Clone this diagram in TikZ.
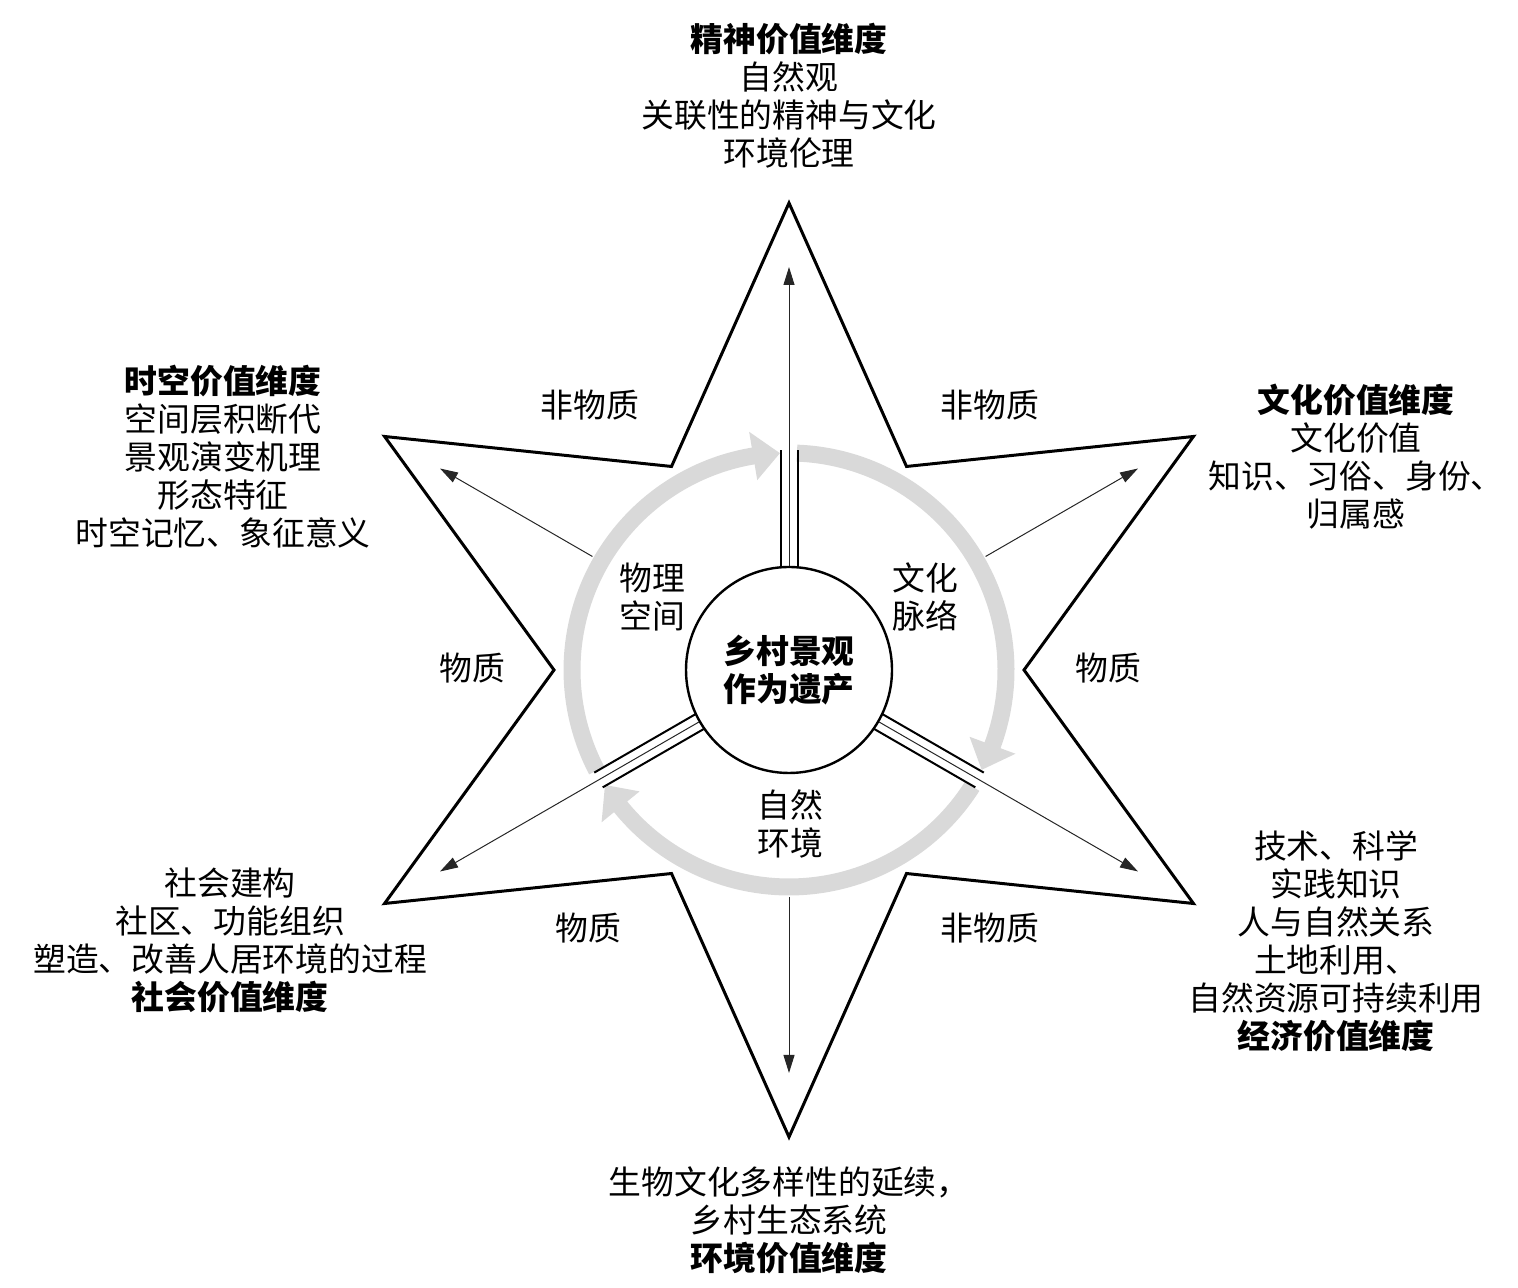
\documentclass[tikz,border=0pt]{standalone}
\usepackage{fontspec}
\setmainfont{Noto Sans CJK SC}
\usetikzlibrary{arrows.meta}
\begin{document}
\begin{tikzpicture}[x=0.5pt,y=0.5pt,
  txt/.style={font=\fontsize{16.4pt}{19pt}\selectfont, align=center, inner sep=0pt},
  starline/.style={line width=1.5pt, line join=miter},
  ringarc/.style={line width=8.5pt, draw=black!15},
  ringhead/.style={fill=black!15},
  thinarrow/.style={line width=0.5pt, draw=black!85, -{Triangle[length=9pt,width=5.5pt]}},
  spokeline/.style={line width=1pt},
  hubnode/.style={circle, draw, line width=1.2pt, fill=white, minimum size=103pt, inner sep=0pt, align=center, font=\fontsize{16.4pt}{19pt}\selectfont\bfseries}
]
\useasboundingbox (0,0) rectangle (1518,1288);
\coordinate (C) at (789,618);
\begin{scope}[shift={(C)}]
  % grey cycle arrows
  \draw[ringarc] (87.9:217) arc[start angle=87.9, end angle=-21.0, radius=217];
  \fill[ringhead] (-27.4:217) -- (-20.3:241.5) -- (-20.3:192.5) -- cycle;
  \draw[ringarc] (-32.4:217) arc[start angle=-32.4, end angle=-141.6, radius=217];
  \fill[ringhead] (-148:217) -- (-140.9:241.5) -- (-140.9:192.5) -- cycle;
  \draw[ringarc] (207.6:217) arc[start angle=207.6, end angle=98.8, radius=217];
  \fill[ringhead] (92.4:217) -- (99.5:241.5) -- (99.5:192.5) -- cycle;
  % spokes (double lines)
  \foreach \a in {90,-30,210}{
    \begin{scope}[rotate=\a]
      \draw[spokeline] (0,8.5) -- (220,8.5);
      \draw[spokeline] (0,-8.5) -- (220,-8.5);
    \end{scope}
  }
  % star
  \draw[starline] (90:467) -- (120:235) -- (150:467) -- (180:235) -- (210:467) -- (240:235)
    -- (270:467) -- (300:235) -- (330:467) -- (0:235) -- (30:467) -- (60:235) -- cycle;
  % arrow coordinates
  \coordinate (t90) at (90:403);
  \coordinate (t330) at (-30:403);
  \coordinate (t210) at (210:403);
  \coordinate (t150) at (150:403);
  \coordinate (t30) at (30:403);
  \coordinate (t270) at (270:403);
  \coordinate (s150) at (150:227);
  \coordinate (s30) at (30:227);
  \coordinate (s270) at (270:227);
\end{scope}
\node[hubnode] (hub) at (C) {乡村景观\\作为遗产};
\draw[thinarrow] (hub) -- (t90);
\draw[thinarrow] (hub) -- (t330);
\draw[thinarrow] (hub) -- (t210);
\draw[thinarrow] (s150) -- (t150);
\draw[thinarrow] (s30) -- (t30);
\draw[thinarrow] (s270) -- (t270);
% inner labels
\node[txt] (phys) at (652,691) {物理\\空间};
\node[txt] (cult) at (925,691) {文化\\脉络};
\node[txt] (natu) at (790,464) {自然\\环境};
% star labels
\node[txt] (l1) at (590,883) {非物质};
\node[txt] (l2) at (990,883) {非物质};
\node[txt] (l3) at (990,360) {非物质};
\node[txt] (l4) at (472,620) {物质};
\node[txt] (l5) at (1108,620) {物质};
\node[txt] (l6) at (588,360) {物质};
% outer blocks
\node[txt] (top) at (789,1192.5) {\textbf{精神价值维度}\\自然观\\关联性的精神与文化\\环境伦理};
\node[txt] (ul) at (223,831.5) {\textbf{时空价值维度}\\空间层积断代\\景观演变机理\\形态特征\\时空记忆、象征意义};
\node[txt] (ur) at (1356,831) {\textbf{文化价值维度}\\文化价值\\知识、习俗、身份、\\归属感};
\node[txt] (ll) at (230,347.5) {社会建构\\社区、功能组织\\塑造、改善人居环境的过程\\\textbf{社会价值维度}};
\node[txt] (lr) at (1336,347) {技术、科学\\实践知识\\人与自然关系\\土地利用、\\自然资源可持续利用\\\textbf{经济价值维度}};
\node[txt] (bot) at (789,67.5) {生物文化多样性的延续，\\乡村生态系统\\\textbf{环境价值维度}};
\end{tikzpicture}
\end{document}
